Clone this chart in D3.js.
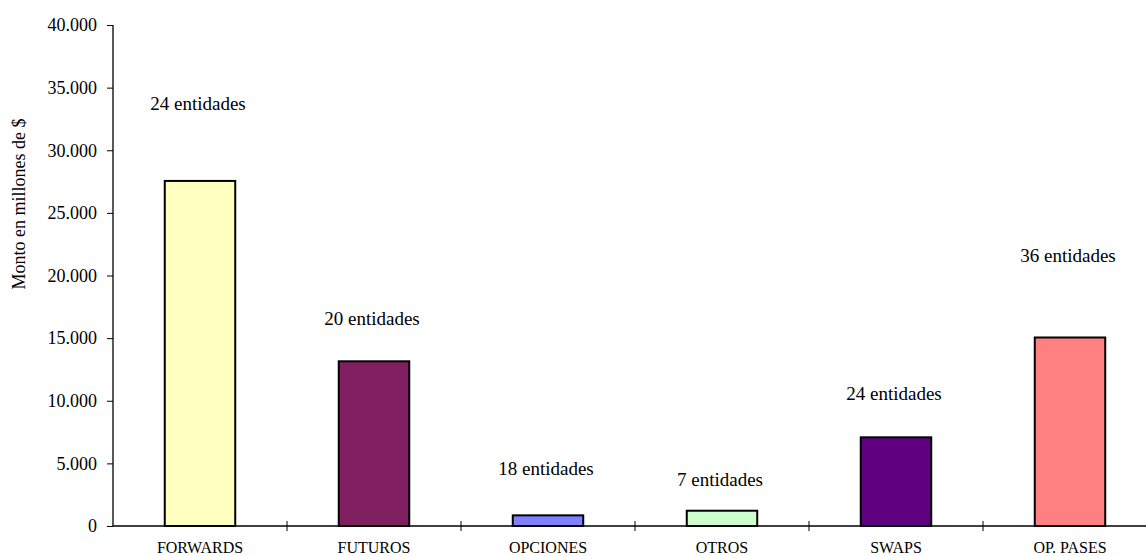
<!DOCTYPE html>
<html><head><meta charset="utf-8">
<script src="https://cdn.jsdelivr.net/npm/d3@7"></script>
<style>body{margin:0;background:#fff}svg{display:block}text{font-family:"Liberation Serif","Times New Roman",serif}</style>
</head><body><svg id="c" width="1146" height="556"></svg>
<script>
const categories = ["FORWARDS","FUTUROS","OPCIONES","OTROS","SWAPS","OP. PASES"];
const values = [27550, 13150, 850, 1220, 7080, 15050];
const entidades = ["24 entidades","20 entidades","18 entidades","7 entidades","24 entidades","36 entidades"];
const labelLevels = [33250, 16050, 4070, 3200, 10060, 21090];
const colors = ["#FFFFC0","#7F1F5F","#8080FF","#CCFFCC","#600080","#FF8080"];
const yTicks = [0,5000,10000,15000,20000,25000,30000,35000,40000];

const FONT = "'Liberation Serif','Times New Roman',Times,serif";
const svg = d3.select("#c");
const x0 = 113, x1 = 1157, yTop = 25, yBot = 526;
const x = d3.scaleBand().domain(categories).range([x0, x1]).paddingInner(0).paddingOuter(0);
const y = d3.scaleLinear().domain([0, 40000]).range([yBot, yTop]);
const loc = d3.formatLocale({decimal: ",", thousands: ".", grouping: [3], currency: ["$", ""]});
const fmt = loc.format(",d");
const bw = x.bandwidth() * 0.405;

// bars
svg.append("g").selectAll("rect").data(categories).join("rect")
  .attr("x", d => x(d) + x.bandwidth()/2 - bw/2)
  .attr("y", (d,i) => y(values[i]))
  .attr("width", bw)
  .attr("height", (d,i) => y(0) - y(values[i]))
  .attr("fill", (d,i) => colors[i])
  .attr("stroke", "#000").attr("stroke-width", 2);

// y axis
const ya = svg.append("g").attr("transform", `translate(${x0},0)`)
  .call(d3.axisLeft(y).tickValues(yTicks).tickFormat(fmt).tickSize(6).tickPadding(10));
ya.attr("font-family", FONT);
ya.select(".domain").attr("stroke", "#000").attr("stroke-width", 1.3).attr("d", `M0,${yTop}V${yBot}`);
ya.selectAll(".tick line").attr("stroke", "#000");
ya.selectAll(".tick text").attr("font-size", 18).attr("fill", "#000").style("font-family", FONT);

// x axis
const xa = svg.append("g").attr("transform", `translate(0,${yBot})`)
  .call(d3.axisBottom(x).tickSize(0));
xa.attr("font-family", FONT);
xa.select(".domain").attr("stroke", "#000").attr("stroke-width", 1.3).attr("d", `M${x0},0H${x1}`);
xa.selectAll(".tick text").attr("font-size", 16).attr("fill", "#000")
  .attr("y", 26.5).attr("dy", 0).style("font-family", FONT);
// boundary tick marks
const bounds = categories.map(d => x(d)).slice(1);
svg.append("g").selectAll("line").data(bounds).join("line")
  .attr("x1", d => d).attr("x2", d => d)
  .attr("y1", yBot - 5).attr("y2", yBot + 5)
  .attr("stroke", "#000").attr("stroke-width", 1);

// entity labels
svg.append("g").selectAll("text").data(categories).join("text")
  .attr("x", d => x(d) + x.bandwidth()/2 - 2)
  .attr("y", (d,i) => y(labelLevels[i]))
  .attr("text-anchor", "middle").attr("font-size", 19).attr("fill", "#000")
  .style("font-family", FONT)
  .text((d,i) => entidades[i]);

// y axis title
svg.append("text").attr("transform", `translate(25,204) rotate(-90)`)
  .attr("text-anchor", "middle").attr("font-size", 18).attr("fill", "#000")
  .style("font-family", FONT)
  .text("Monto en millones de $");
</script></body></html>
